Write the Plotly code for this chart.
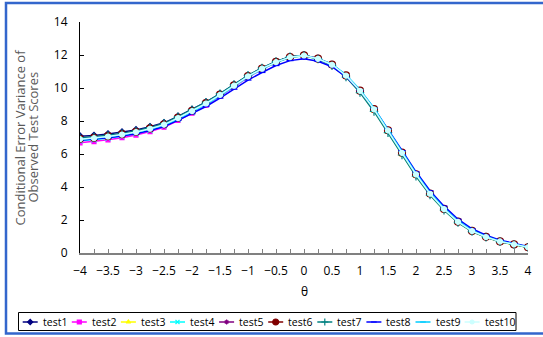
import plotly.graph_objects as go

# Ability scale (theta) grid
theta = [-4.0, -3.75, -3.5, -3.25, -3.0, -2.75, -2.5, -2.25, -2.0, -1.75, -1.5,
         -1.25, -1.0, -0.75, -0.5, -0.25, 0.0, 0.25, 0.5, 0.75, 1.0, 1.25,
         1.5, 1.75, 2.0, 2.25, 2.5, 2.75, 3.0, 3.25, 3.5, 3.75, 4.0]

test1 = [7.08, 7.12, 7.21, 7.32, 7.46, 7.65, 7.89, 8.28, 8.69, 9.14, 9.65, 10.2, 10.75,
         11.2, 11.6, 11.89, 11.99, 11.79, 11.42, 10.75, 9.82, 8.7, 7.42, 6.06, 4.76,
         3.6, 2.68, 1.91, 1.35, 0.99, 0.71, 0.53, 0.36]
test2 = [6.68, 6.75, 6.86, 6.99, 7.15, 7.36, 7.62, 8.03, 8.47, 8.95, 9.49, 10.07, 10.65,
         11.13, 11.55, 11.86, 11.97, 11.78, 11.42, 10.76, 9.85, 8.73, 7.45, 6.09, 4.78,
         3.61, 2.68, 1.91, 1.35, 0.98, 0.7, 0.52, 0.35]
test3 = [6.85, 6.91, 7.01, 7.14, 7.29, 7.49, 7.75, 8.15, 8.58, 9.05, 9.57, 10.14, 10.7,
         11.16, 11.56, 11.86, 11.96, 11.75, 11.37, 10.69, 9.76, 8.63, 7.34, 5.98, 4.68,
         3.53, 2.61, 1.85, 1.3, 0.95, 0.68, 0.5, 0.34]
test4 = [6.8, 6.86, 6.96, 7.09, 7.24, 7.44, 7.7, 8.1, 8.53, 9.0, 9.53, 10.1, 10.67,
         11.14, 11.55, 11.85, 11.95, 11.76, 11.39, 10.73, 9.82, 8.7, 7.41, 6.06, 4.75,
         3.59, 2.66, 1.89, 1.33, 0.97, 0.7, 0.52, 0.35]
test5 = [6.95, 7.01, 7.11, 7.23, 7.38, 7.58, 7.83, 8.23, 8.65, 9.11, 9.63, 10.18, 10.74,
         11.19, 11.59, 11.88, 11.98, 11.78, 11.41, 10.74, 9.83, 8.71, 7.42, 6.06, 4.75,
         3.59, 2.66, 1.89, 1.33, 0.97, 0.7, 0.52, 0.35]
test6 = [6.92, 6.98, 7.08, 7.2, 7.35, 7.55, 7.8, 8.2, 8.62, 9.08, 9.6, 10.16, 10.72,
         11.18, 11.58, 11.88, 11.98, 11.78, 11.42, 10.76, 9.84, 8.72, 7.44, 6.08, 4.77,
         3.6, 2.67, 1.9, 1.34, 0.98, 0.7, 0.52, 0.35]
test7 = [6.97, 7.03, 7.13, 7.25, 7.4, 7.6, 7.86, 8.26, 8.68, 9.14, 9.66, 10.21, 10.77,
         11.22, 11.61, 11.9, 11.98, 11.75, 11.35, 10.66, 9.72, 8.58, 7.29, 5.94, 4.65,
         3.51, 2.59, 1.84, 1.3, 0.95, 0.68, 0.51, 0.34]
test8 = [6.84, 6.89, 6.98, 7.09, 7.23, 7.42, 7.66, 8.04, 8.44, 8.88, 9.39, 9.93, 10.48,
         10.94, 11.36, 11.66, 11.77, 11.62, 11.29, 10.68, 9.83, 8.76, 7.52, 6.21, 4.92,
         3.77, 2.84, 2.05, 1.47, 1.08, 0.78, 0.58, 0.4]
test9 = [6.88, 6.94, 7.04, 7.16, 7.31, 7.51, 7.76, 8.16, 8.59, 9.05, 9.57, 10.13, 10.7,
         11.16, 11.56, 11.87, 11.97, 11.79, 11.44, 10.8, 9.9, 8.79, 7.5, 6.14, 4.83,
         3.66, 2.72, 1.94, 1.37, 1.0, 0.72, 0.54, 0.37]
test10 = [6.9, 6.96, 7.06, 7.18, 7.33, 7.53, 7.78, 8.18, 8.6, 9.06, 9.58, 10.14, 10.71,
          11.17, 11.57, 11.87, 11.97, 11.77, 11.41, 10.75, 9.83, 8.71, 7.43, 6.07, 4.76,
          3.59, 2.66, 1.89, 1.33, 0.97, 0.7, 0.52, 0.35]

names = ["test1", "test2", "test3", "test4", "test5",
         "test6", "test7", "test8", "test9", "test10"]
series = [test1, test2, test3, test4, test5, test6, test7, test8, test9, test10]
colors = ["#000080", "#FF00FF", "#FFFF00", "#00FFFF", "#800080",
          "#800000", "#008080", "#0000FF", "#00CCFF", "#CCFFFF"]
symbols = ["diamond", "square", "triangle-up", "x-thin-open", "asterisk-open",
           "circle", "cross-thin-open", "line-ew-open", "line-ew-open", "circle"]
sizes = [5, 4, 5, 5, 5, 7, 6, 5, 5, 5]

W, H = 543, 337
# plot-area edges in pixels
PL, PR, PT, PB = 80, 528, 22, 253

font_family = "Open Sans, DejaVu Sans, sans-serif"

fig = go.Figure()
for name, ys, col, sym, sz in zip(names, series, colors, symbols, sizes):
    fig.add_trace(go.Scatter(
        x=theta, y=ys, name=name, mode="lines+markers",
        line=dict(color=col, width=1.5),
        marker=dict(symbol=sym, size=sz, color=col,
                    line=dict(color=col, width=1.2)),
        showlegend=False, xaxis="x", yaxis="y",
    ))

# Legend row drawn on a full-canvas pixel axis pair (x2/y2)
legend_y = 322
key_x0 = 22.7
key_step = 49.1
annotations = []
for i, (name, col, sym, sz) in enumerate(zip(names, colors, symbols, sizes)):
    x0 = key_x0 + i * key_step
    fig.add_trace(go.Scatter(
        x=[x0, x0 + 15], y=[legend_y, legend_y], mode="lines",
        line=dict(color=col, width=1.5), showlegend=False,
        hoverinfo="skip", xaxis="x2", yaxis="y2",
    ))
    fig.add_trace(go.Scatter(
        x=[x0 + 7.5], y=[legend_y], mode="markers",
        marker=dict(symbol=sym, size=max(sz - 1, 4), color=col,
                    line=dict(color=col, width=1.2)),
        showlegend=False, hoverinfo="skip", xaxis="x2", yaxis="y2",
    ))
    annotations.append(dict(
        x=x0 + 18, y=legend_y, xref="x2", yref="y2", text=name,
        showarrow=False, xanchor="left", yanchor="middle",
        font=dict(size=10.5, color="black"),
    ))

# axis titles
annotations += [
    dict(x=19, y=(PT + PB) / 2, xref="x2", yref="y2",
         text="Conditional Error Variance of", textangle=-90, showarrow=False,
         xanchor="center", yanchor="middle",
         font=dict(size=13, color="#595959")),
    dict(x=32, y=(PT + PB) / 2, xref="x2", yref="y2",
         text="Observed Test Scores", textangle=-90, showarrow=False,
         xanchor="center", yanchor="middle",
         font=dict(size=13, color="#595959")),
    dict(x=(PL + PR) / 2, y=291, xref="x2", yref="y2", text="θ",
         showarrow=False, xanchor="center", yanchor="middle",
         font=dict(size=12, color="black")),
]

fig.update_layout(
    width=W, height=H,
    margin=dict(l=0, r=0, t=0, b=0, pad=0, autoexpand=False),
    paper_bgcolor="white", plot_bgcolor="rgba(0,0,0,0)",
    font=dict(family=font_family, size=12, color="black"),
    showlegend=False,
    xaxis=dict(
        domain=[PL / W, PR / W], anchor="y", automargin=False,
        range=[-4, 4], dtick=0.5, tick0=-4, showgrid=False, zeroline=False,
        showline=True, linecolor="#808080", linewidth=1.5,
        ticks="inside", ticklen=4, tickcolor="#808080",
        minor=dict(dtick=0.25, ticks="inside", ticklen=4, tickcolor="#808080"),
        tickfont=dict(size=12), ticklabelstandoff=6,
    ),
    yaxis=dict(
        domain=[1 - PB / H, 1 - PT / H], anchor="x", automargin=False,
        range=[0, 14], dtick=2, showgrid=False, zeroline=False,
        showline=True, linecolor="black", linewidth=1,
        ticks="inside", ticklen=4, tickcolor="black",
        tickfont=dict(size=12), ticklabelstandoff=9,
    ),
    xaxis2=dict(domain=[0, 1], range=[0, W], visible=False, anchor="y2",
                fixedrange=True, automargin=False),
    yaxis2=dict(domain=[0, 1], range=[H, 0], visible=False, anchor="x2",
                fixedrange=True, automargin=False),
    annotations=annotations,
    shapes=[
        # legend frame
        dict(type="rect", xref="x2", yref="y2", x0=18.5, x1=516, y0=312.5, y1=330.5,
             line=dict(color="black", width=1), fillcolor="rgba(0,0,0,0)",
             layer="below"),
        # outer chart border
        dict(type="rect", xref="x2", yref="y2", x0=6, x1=W + 5, y0=3, y1=333.5,
             line=dict(color="#3366CC", width=2.5), fillcolor="rgba(0,0,0,0)",
             layer="below"),
    ],
)

fig.write_html("out.html")
